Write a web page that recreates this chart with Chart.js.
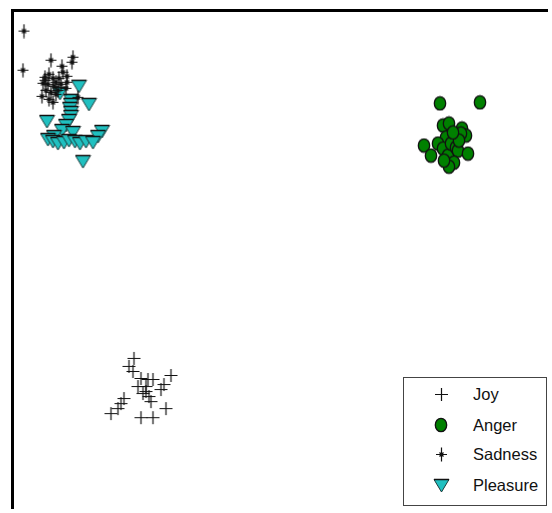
<!DOCTYPE html>
<html>
<head>
<meta charset="utf-8">
<script src="https://cdn.jsdelivr.net/npm/chart.js@4.4.1/dist/chart.umd.min.js"></script>
<style>
  html, body { margin: 0; padding: 0; background: #fff; overflow: hidden; }
  #wrap { position: relative; width: 552px; height: 513px; }
  #legend {
    position: absolute; left: 403px; top: 377px; width: 142px; height: 127px;
    border: 1px solid #444; background: #fff;
    font-family: "Liberation Sans", Arial, sans-serif; font-size: 16.5px; color: #111;
  }
  #legend .row { position: absolute; left: 0; height: 20px; display: flex; align-items: center; }
  #legend .mk { width: 20px; height: 20px; margin-left: 27px; display: flex; align-items: center; justify-content: center; }
  #legend .txt { margin-left: 22px; }
</style>
</head>
<body>
<div id="wrap">
  <canvas id="chart" width="552" height="513"></canvas>
  <div id="legend"></div>
</div>
<script>
// series (projection coordinates)
const seriesNames = ["Joy", "Anger", "Sadness", "Pleasure"];

const joyX = [120, 115, 119, 127, 134, 139, 157, 150, 132, 135, 137, 129, 147, 152, 110, 107, 104, 97, 127, 139, 124, 132];
const joyY = [156, 148, 143, 136, 135, 135, 139, 130, 123, 118, 113, 121, 125, 106, 116, 111, 106, 101, 97, 97, 128, 128];

const angerX = [426, 466, 429, 435, 448, 452, 447, 410, 417, 432, 424, 429, 434, 437, 442, 444, 454, 440, 435, 430, 445, 439];
const angerY = [410, 411, 388, 390, 385, 378, 380, 368, 358, 376, 370, 365, 358, 370, 366, 363, 360, 351, 347, 353, 373, 381];

const sadnessX = [10, 9, 37, 59, 58, 48, 49, 35, 31, 39, 45, 53, 29, 34, 40, 47, 53, 32, 37, 42, 28, 35, 39, 44, 64, 52, 31, 42];
const sadnessY = [482, 443, 453, 456, 451, 447, 441, 439, 436, 435, 435, 437, 430, 429, 427, 429, 431, 423, 421, 419, 417, 414, 411, 423, 416, 425, 433, 431];

const pleasureX = [65, 46, 75, 57, 57, 56, 57, 57, 55, 33, 52, 48, 40, 59, 88, 84, 34, 39, 44, 50, 55, 61, 66, 72, 79, 69];
const pleasureY = [427, 420, 409, 413, 409, 405, 401, 397, 393, 392, 388, 383, 377, 381, 382, 377, 374, 372, 370, 371, 373, 372, 370, 372, 371, 352];

const toPoints = (xs, ys) => xs.map((x, i) => ({ x, y: ys[i] }));

// marker images
function makeMarker(w, h, draw) {
  const c = document.createElement("canvas");
  c.width = w;
  c.height = h;
  draw(c.getContext("2d"));
  return c;
}

const joyMarker = makeMarker(15, 15, (ctx) => {
  ctx.strokeStyle = "#111";
  ctx.lineWidth = 1.2;
  ctx.beginPath();
  ctx.moveTo(7.5, 1); ctx.lineTo(7.5, 14);
  ctx.moveTo(1, 7.5); ctx.lineTo(14, 7.5);
  ctx.stroke();
});

const sadnessMarker = makeMarker(13, 15, (ctx) => {
  ctx.strokeStyle = "#111";
  ctx.lineWidth = 1.2;
  ctx.beginPath();
  ctx.moveTo(6.5, 0.5); ctx.lineTo(6.5, 14.5);
  ctx.moveTo(1, 7.5); ctx.lineTo(12, 7.5);
  ctx.moveTo(4.5, 5.5); ctx.lineTo(8.5, 9.5);
  ctx.moveTo(8.5, 5.5); ctx.lineTo(4.5, 9.5);
  ctx.stroke();
});

const angerMarker = makeMarker(14, 16, (ctx) => {
  ctx.fillStyle = "#008000";
  ctx.strokeStyle = "#111";
  ctx.lineWidth = 1.3;
  ctx.beginPath();
  ctx.ellipse(7, 8, 5.7, 6.7, 0, 0, Math.PI * 2);
  ctx.fill();
  ctx.stroke();
});

const pleasureMarker = makeMarker(17, 15, (ctx) => {
  ctx.fillStyle = "#20c0c0";
  ctx.strokeStyle = "#1a3a3a";
  ctx.lineWidth = 1;
  ctx.beginPath();
  ctx.moveTo(1, 1.5);
  ctx.lineTo(16, 1.5);
  ctx.lineTo(8.5, 14);
  ctx.closePath();
  ctx.fill();
  ctx.stroke();
  ctx.strokeStyle = "#111";
  ctx.lineWidth = 1.5;
  ctx.beginPath();
  ctx.moveTo(1, 1.5); ctx.lineTo(16, 1.5);
  ctx.stroke();
});

const markers = [joyMarker, angerMarker, sadnessMarker, pleasureMarker];

const axisOpts = {
  display: true,
  ticks: { display: false },
  grid: { display: false, drawTicks: false },
  border: { display: true, color: "#000", width: 3 },
};

new Chart(document.getElementById("chart"), {
  type: "scatter",
  data: {
    datasets: [
      { label: seriesNames[0], data: toPoints(joyX, joyY), pointStyle: joyMarker, order: 1 },
      { label: seriesNames[1], data: toPoints(angerX, angerY), pointStyle: angerMarker, order: 2 },
      { label: seriesNames[2], data: toPoints(sadnessX, sadnessY), pointStyle: sadnessMarker, order: 1 },
      { label: seriesNames[3], data: toPoints(pleasureX, pleasureY), pointStyle: pleasureMarker, order: 2 },
    ],
  },
  options: {
    responsive: false,
    animation: false,
    layout: { padding: { left: 12, top: 10, right: 0, bottom: 0 } },
    scales: {
      x: { ...axisOpts, type: "linear", position: "top", min: -2, max: 533 },
      y: { ...axisOpts, type: "linear", position: "left", min: 7, max: 503 },
    },
    plugins: {
      legend: { display: false },
      tooltip: { enabled: false },
    },
  },
});

// legend box
const legend = document.getElementById("legend");
const rowTops = [6, 37, 66, 97];
seriesNames.forEach((name, i) => {
  const row = document.createElement("div");
  row.className = "row";
  row.style.top = rowTops[i] + "px";
  const mk = document.createElement("div");
  mk.className = "mk";
  const img = document.createElement("img");
  img.src = markers[i].toDataURL();
  mk.appendChild(img);
  const txt = document.createElement("span");
  txt.className = "txt";
  txt.textContent = name;
  row.appendChild(mk);
  row.appendChild(txt);
  legend.appendChild(row);
});
</script>
</body>
</html>
